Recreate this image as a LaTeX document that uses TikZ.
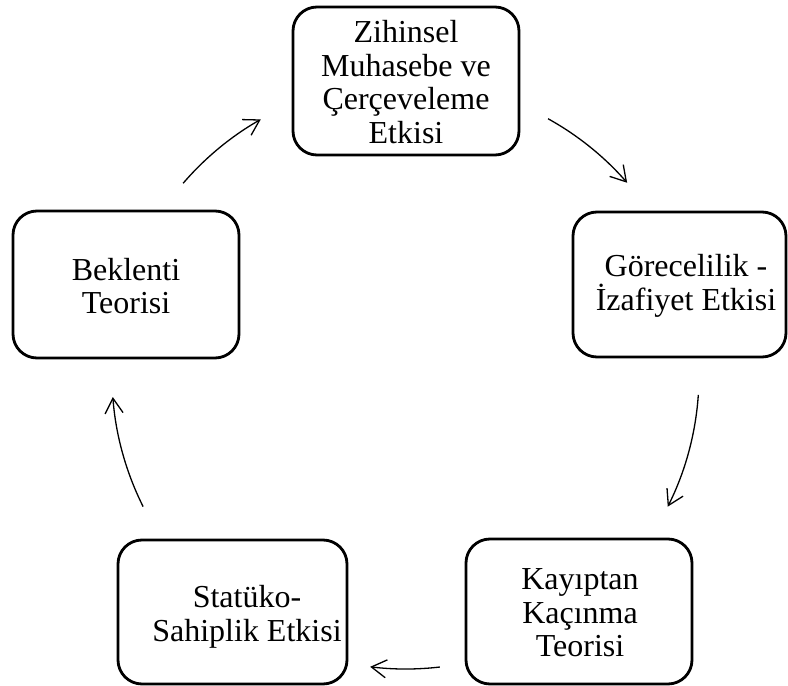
\documentclass[tikz,border=0pt]{standalone}
\usepackage{fontspec}
\setmainfont{Liberation Serif}
\usetikzlibrary{arrows.meta,calc}
\begin{document}
\begin{tikzpicture}[x=1pt,y=1pt,
  box/.style={draw, line width=2.8pt, rounded corners=24pt, inner sep=0pt},
  lbl/.style={align=center, font=\fontsize{32}{33.5}\selectfont, inner sep=0pt},
  cyc/.style={line width=1.3pt, -{Straight Barb[length=15pt,width=18pt,line width=1.3pt]}}]
\useasboundingbox (0,0) rectangle (788,686);
% boxes
\node[box, minimum width=226pt, minimum height=148pt] (top) at (406,605) {};
\node[box, minimum width=213pt, minimum height=145pt] (right) at (679.5,401.5) {};
\node[box, minimum width=226pt, minimum height=145pt] (bright) at (579,74.5) {};
\node[box, minimum width=229pt, minimum height=144pt] (bleft) at (232.5,74) {};
\node[box, minimum width=226pt, minimum height=147pt] (left) at (126,401.5) {};
% labels
\node[lbl] (ttop) at (406,604) {Zihinsel\\Muhasebe ve\\Çerçeveleme\\Etkisi};
\node[lbl] (tright) at (686,400) {Görecelilik -\\İzafiyet Etkisi};
\node[lbl] (tbright) at (580,73) {Kayıptan\\Kaçınma\\Teorisi};
\node[lbl] (tbleft) at (247,69) {Statüko-\\Sahiplik Etkisi};
\node[lbl] (tleft) at (126,400) {Beklenti\\Teorisi};
% cycle arrows
\coordinate (c) at (406,311);
\coordinate (a1) at ($(c)+(139.3:294)$);
\coordinate (a2) at ($(c)+(61:293)$);
\coordinate (a3) at ($(c)+(-3.9:293)$);
\coordinate (a4) at ($(c)+(-83.4:294)$);
\coordinate (a5) at ($(c)+(206.6:294)$);
\draw[cyc] (a1) arc[start angle=139.3, end angle=119.6, radius=294];
\draw[cyc] (a2) arc[start angle=61, end angle=41, radius=293];
\draw[cyc] (a3) arc[start angle=-3.9, end angle=-26.7, radius=293];
\draw[cyc] (a4) arc[start angle=-83.4, end angle=-97, radius=294];
\draw[cyc] (a5) arc[start angle=206.6, end angle=184.3, radius=294];
\end{tikzpicture}
\end{document}
